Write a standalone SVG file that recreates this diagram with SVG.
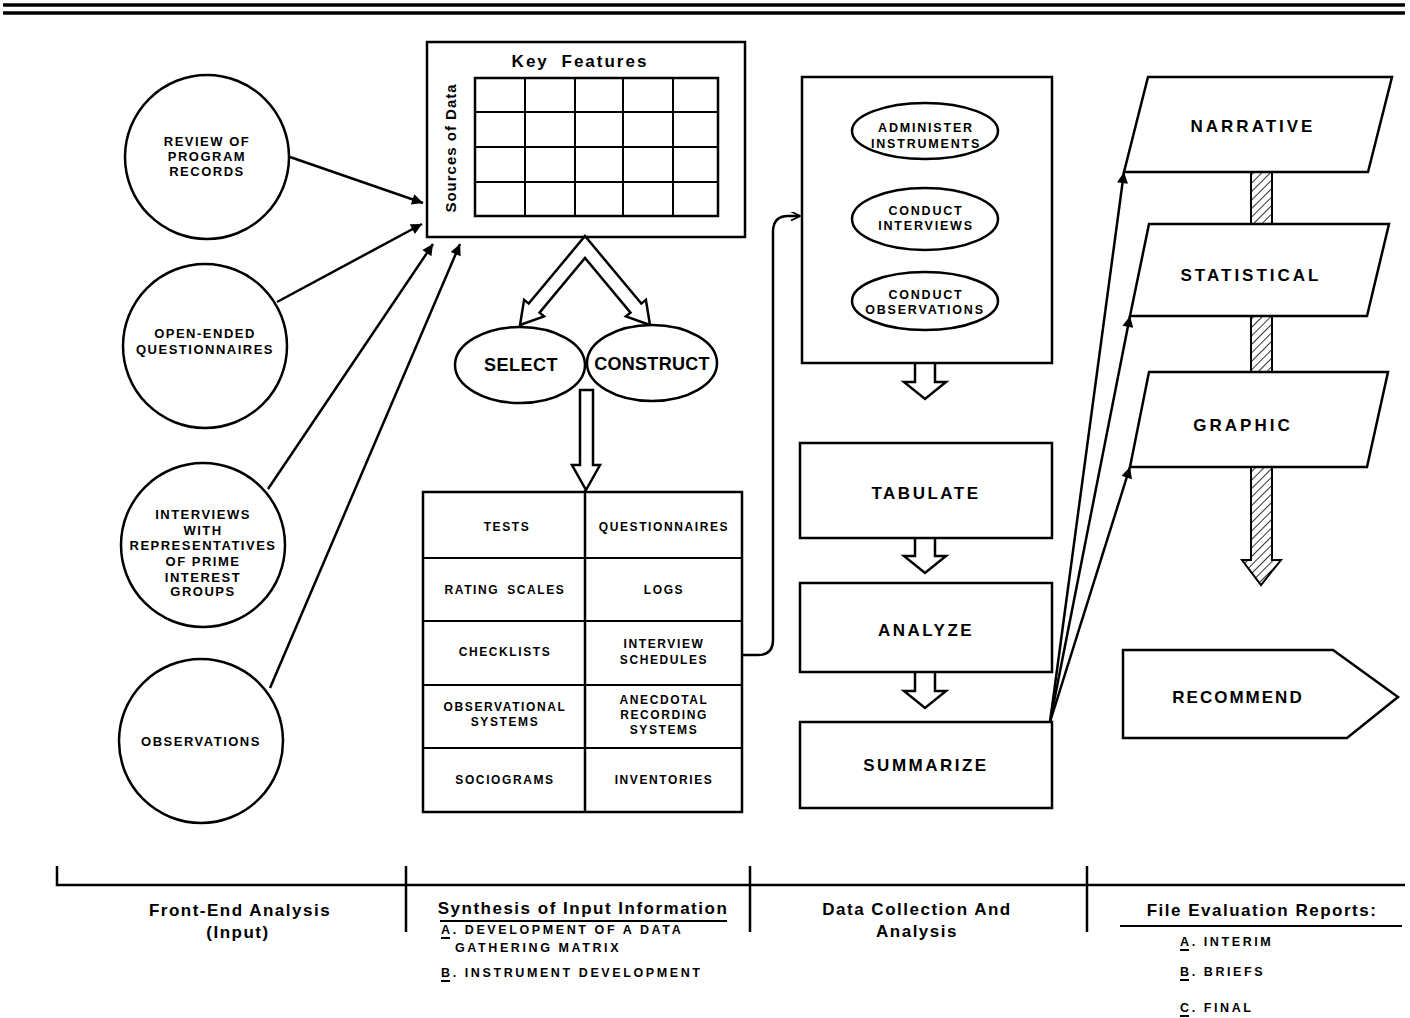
<svg xmlns="http://www.w3.org/2000/svg" width="1410" height="1018" viewBox="0 0 1410 1018">
<defs>
<style>
.s{fill:none;stroke:#000;stroke-width:2.5}
.w{fill:#fff;stroke:#000;stroke-width:2.5}
.g{fill:none;stroke:#000;stroke-width:2}
.t{font-family:"Liberation Sans",Arial,sans-serif;font-weight:bold;fill:#000;text-anchor:middle;dominant-baseline:central}
.c{font-size:13px;letter-spacing:1.5px}
.tb{font-size:12px;letter-spacing:1.6px;word-spacing:3px}
.e{font-size:12.5px;letter-spacing:1.8px}
.m{font-size:17px;letter-spacing:2.5px}
.r{font-size:17px;letter-spacing:3px}
.l{font-family:"Liberation Sans",Arial,sans-serif;font-weight:bold;font-size:17px;letter-spacing:1.5px;fill:#000;text-anchor:middle;dominant-baseline:central}
.sub{font-family:"Liberation Sans",Arial,sans-serif;font-weight:bold;font-size:12.5px;letter-spacing:2.6px;fill:#000;dominant-baseline:central}
</style>
<marker id="ah" viewBox="0 0 10 10" refX="10" refY="5" markerUnits="userSpaceOnUse" markerWidth="14" markerHeight="11" orient="auto">
<path d="M0,0 L10,5 L0,10 z" fill="#000"/>
</marker>
<marker id="ahs" viewBox="0 0 10 10" refX="10" refY="5" markerUnits="userSpaceOnUse" markerWidth="11" markerHeight="9" orient="auto">
<path d="M0,0 L10,5 L0,10" fill="none" stroke="#000" stroke-width="2"/>
</marker>
<pattern id="hatch" patternUnits="userSpaceOnUse" width="6" height="6" patternTransform="rotate(45)">
<rect width="6" height="6" fill="#fff"/>
<line x1="0" y1="0" x2="0" y2="6" stroke="#000" stroke-width="1.6"/>
</pattern>
<path id="darr" d="M-10,0 V18 H-21 L0,35 L21,18 H10 V0" fill="#fff" stroke="#000" stroke-width="2.5" stroke-linejoin="miter"/>
</defs>

<g id="header">
<line x1="3" y1="5" x2="1405" y2="5" stroke="#000" stroke-width="3.5"/>
<line x1="3" y1="13" x2="1405" y2="13" stroke="#000" stroke-width="3.5"/>
</g>

<g id="connectors">
<line class="s" x1="290" y1="157" x2="423" y2="203" marker-end="url(#ah)"/>
<line class="s" x1="277" y1="302" x2="422" y2="224" marker-end="url(#ah)"/>
<line class="s" x1="268" y1="489" x2="433" y2="244" marker-end="url(#ah)"/>
<line class="s" x1="270" y1="688" x2="460" y2="244" marker-end="url(#ah)"/>
<polygon id="split-arrow" class="w" points="585,236 641.3,303.6 645.9,299.8 650,325 625.9,316.4 630.5,312.6 585,258 539.5,312.6 544.1,316.4 520,325 524.1,299.8 528.7,303.6"/>
<polygon id="down-arrow" class="w" points="580,390 593,390 593,465 600,465 586,490 572,465 580,465"/>
<path class="s" d="M742,655 L758,655 Q773,655 773,640 L773,232 Q773,216 788,216 L800,216" marker-end="url(#ahs)"/>
<use href="#darr" x="925" y="364"/>
<use href="#darr" x="925" y="538"/>
<use href="#darr" x="925" y="673"/>
<line class="s" x1="1050" y1="722" x2="1124" y2="172" marker-end="url(#ah)"/>
<line class="s" x1="1050" y1="722" x2="1130" y2="316" marker-end="url(#ah)"/>
<line class="s" x1="1050" y1="722" x2="1130" y2="467" marker-end="url(#ah)"/>
<rect x="1251" y="170" width="21" height="56" fill="url(#hatch)" stroke="#000" stroke-width="2"/>
<rect x="1251" y="314" width="21" height="60" fill="url(#hatch)" stroke="#000" stroke-width="2"/>
<path d="M1251,465 V560 H1242 L1261,585 L1281,560 H1272 V465 Z" fill="url(#hatch)" stroke="#000" stroke-width="2"/>
</g>

<g id="circle-records">
<circle class="s" cx="207" cy="157" r="82"/>
<text class="t c" x="207" y="141">REVIEW OF</text>
<text class="t c" x="207" y="156">PROGRAM</text>
<text class="t c" x="207" y="171">RECORDS</text>
</g>
<g id="circle-questionnaires">
<circle class="s" cx="205" cy="346" r="82"/>
<text class="t c" x="205" y="333">OPEN-ENDED</text>
<text class="t c" x="205" y="349">QUESTIONNAIRES</text>
</g>
<g id="circle-interviews">
<circle class="s" cx="203" cy="545" r="82"/>
<text class="t c" x="203" y="514">INTERVIEWS</text>
<text class="t c" x="203" y="530">WITH</text>
<text class="t c" x="203" y="545">REPRESENTATIVES</text>
<text class="t c" x="203" y="561">OF PRIME</text>
<text class="t c" x="203" y="577">INTEREST</text>
<text class="t c" x="203" y="591">GROUPS</text>
</g>
<g id="circle-observations">
<circle class="s" cx="201" cy="741" r="82"/>
<text class="t c" x="201" y="741">OBSERVATIONS</text>
</g>

<g id="matrix">
<rect class="s" x="427" y="42" width="318" height="195"/>
<text class="t" x="580" y="61" font-size="17" letter-spacing="2" word-spacing="6">Key Features</text>
<text class="t" font-size="15" letter-spacing="1" transform="translate(450,148) rotate(-90)">Sources of Data</text>
<rect class="s" x="475" y="78" width="243" height="138"/>
<line class="g" x1="525" y1="78" x2="525" y2="216"/>
<line class="g" x1="575" y1="78" x2="575" y2="216"/>
<line class="g" x1="623" y1="78" x2="623" y2="216"/>
<line class="g" x1="673" y1="78" x2="673" y2="216"/>
<line class="g" x1="475" y1="112" x2="718" y2="112"/>
<line class="g" x1="475" y1="147" x2="718" y2="147"/>
<line class="g" x1="475" y1="182" x2="718" y2="182"/>
</g>

<g id="select">
<ellipse class="w" cx="520" cy="365" rx="65" ry="38"/>
<text class="t" x="521" y="365" font-size="18" letter-spacing="0.5">SELECT</text>
</g>
<g id="construct">
<ellipse class="w" cx="652" cy="363" rx="65" ry="38"/>
<text class="t" x="652" y="364" font-size="18" letter-spacing="0.3">CONSTRUCT</text>
</g>

<g id="instruments-table">
<rect class="s" x="423" y="492" width="319" height="320"/>
<line class="s" x1="585" y1="490" x2="585" y2="812"/>
<line class="g" x1="423" y1="558" x2="742" y2="558"/>
<line class="g" x1="423" y1="621" x2="742" y2="621"/>
<line class="g" x1="423" y1="685" x2="742" y2="685"/>
<line class="g" x1="423" y1="748" x2="742" y2="748"/>
<text class="t tb" x="507" y="527" font-size="13" letter-spacing="2.5">TESTS</text>
<text class="t tb" x="505" y="590">RATING SCALES</text>
<text class="t tb" x="505" y="652">CHECKLISTS</text>
<text class="t tb" x="505" y="707">OBSERVATIONAL</text>
<text class="t tb" x="505" y="722">SYSTEMS</text>
<text class="t tb" x="505" y="780">SOCIOGRAMS</text>
<text class="t tb" x="664" y="527">QUESTIONNAIRES</text>
<text class="t tb" x="664" y="590">LOGS</text>
<text class="t tb" x="664" y="644">INTERVIEW</text>
<text class="t tb" x="664" y="660">SCHEDULES</text>
<text class="t tb" x="664" y="700">ANECDOTAL</text>
<text class="t tb" x="664" y="715">RECORDING</text>
<text class="t tb" x="664" y="730">SYSTEMS</text>
<text class="t tb" x="664" y="780">INVENTORIES</text>
</g>

<g id="data-collection">
<rect class="s" x="802" y="77" width="250" height="286"/>
<ellipse class="s" cx="925" cy="131" rx="73" ry="28"/>
<text class="t e" x="926" y="128">ADMINISTER</text>
<text class="t e" x="926" y="144">INSTRUMENTS</text>
<ellipse class="s" cx="925" cy="219" rx="73" ry="31"/>
<text class="t e" x="926" y="211">CONDUCT</text>
<text class="t e" x="926" y="226">INTERVIEWS</text>
<ellipse class="s" cx="925" cy="301" rx="73" ry="29"/>
<text class="t e" x="926" y="295">CONDUCT</text>
<text class="t e" x="925" y="310">OBSERVATIONS</text>
</g>

<g id="tabulate">
<rect class="s" x="800" y="443" width="252" height="95"/>
<text class="t m" x="926" y="493">TABULATE</text>
</g>
<g id="analyze">
<rect class="s" x="800" y="583" width="252" height="89"/>
<text class="t m" x="926" y="630">ANALYZE</text>
</g>
<g id="summarize">
<rect class="s" x="800" y="722" width="252" height="86"/>
<text class="t m" x="926" y="765">SUMMARIZE</text>
</g>

<g id="narrative">
<polygon class="w" points="1148,77 1392,77 1368,172 1124,172"/>
<text class="t r" x="1253" y="126">NARRATIVE</text>
</g>
<g id="statistical">
<polygon class="w" points="1149,224 1389,224 1367,316 1130,316"/>
<text class="t r" x="1251" y="275">STATISTICAL</text>
</g>
<g id="graphic">
<polygon class="w" points="1149,372 1388,372 1367,467 1130,467"/>
<text class="t r" x="1243" y="425">GRAPHIC</text>
</g>
<g id="recommend">
<polygon class="w" points="1123,650 1333,650 1398,697 1347,738 1123,738"/>
<text class="t" x="1238" y="697" font-size="17" letter-spacing="2">RECOMMEND</text>
</g>

<g id="timeline">
<path class="s" d="M57,866 V885 H1405"/>
<line class="s" x1="406" y1="866" x2="406" y2="932"/>
<line class="s" x1="750" y1="866" x2="750" y2="932"/>
<line class="s" x1="1087" y1="866" x2="1087" y2="932"/>
<text class="l" x="240" y="910" font-size="16" letter-spacing="1">Front-End Analysis</text>
<text class="l" x="238" y="932" font-size="16" letter-spacing="3">(Input)</text>
<text class="l" x="583" y="908">Synthesis of Input Information</text>
<line x1="440" y1="921" x2="727" y2="921" stroke="#000" stroke-width="2"/>
<text class="sub" x="441" y="930">A. DEVELOPMENT OF A DATA</text>
<line x1="441" y1="938" x2="450" y2="938" stroke="#000" stroke-width="2"/>
<text class="sub" x="455" y="948">GATHERING MATRIX</text>
<text class="sub" x="441" y="973">B. INSTRUMENT DEVELOPMENT</text>
<line x1="441" y1="981" x2="450" y2="981" stroke="#000" stroke-width="2"/>
<text class="l" x="917" y="909" letter-spacing="2">Data Collection And</text>
<text class="l" x="917" y="931" letter-spacing="2">Analysis</text>
<text class="l" x="1262" y="910" letter-spacing="2.3">File Evaluation Reports:</text>
<line x1="1120" y1="926" x2="1402" y2="926" stroke="#000" stroke-width="2"/>
<text class="sub" x="1180" y="942">A. INTERIM</text>
<line x1="1180" y1="950" x2="1189" y2="950" stroke="#000" stroke-width="2"/>
<text class="sub" x="1180" y="972">B. BRIEFS</text>
<line x1="1180" y1="980" x2="1189" y2="980" stroke="#000" stroke-width="2"/>
<text class="sub" x="1180" y="1008">C. FINAL</text>
<line x1="1180" y1="1016" x2="1189" y2="1016" stroke="#000" stroke-width="2"/>
</g>
</svg>
